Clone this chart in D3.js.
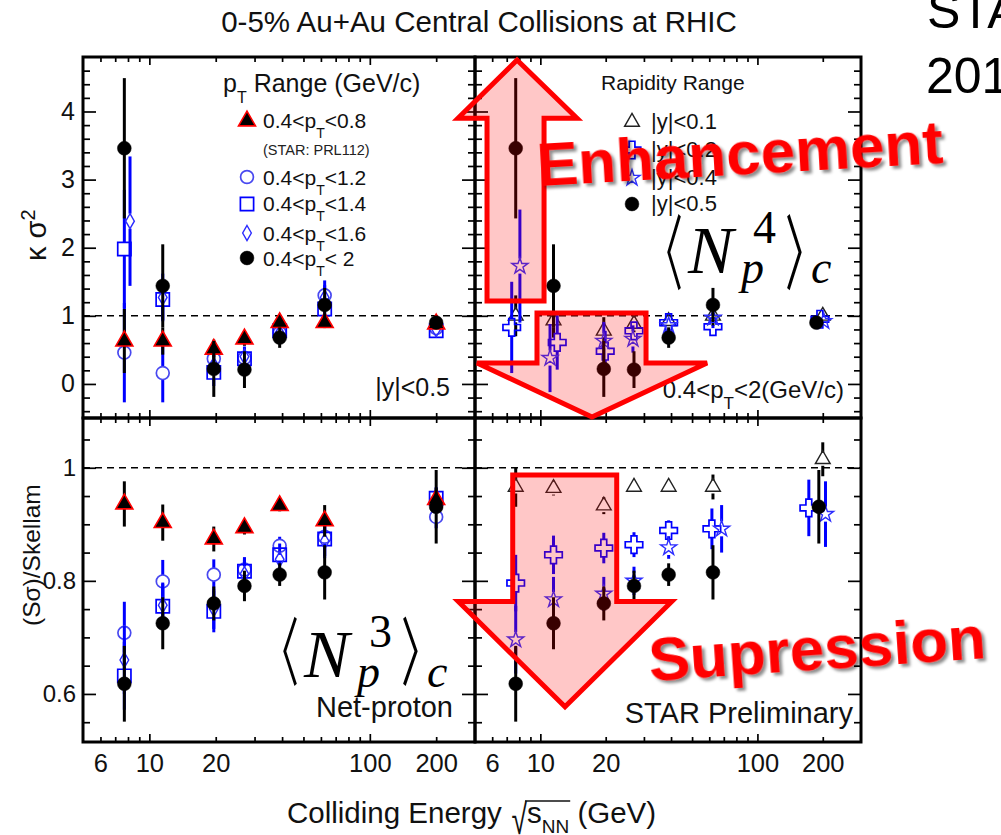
<!DOCTYPE html>
<html><head><meta charset="utf-8">
<script src="https://cdn.jsdelivr.net/npm/d3@7/dist/d3.min.js"></script>
<style>
html,body{margin:0;padding:0;background:#fff;}
svg{display:block;}
</style></head>
<body>
<svg id="chart" width="1001" height="835"></svg>
<script>
// ---------------- data ----------------
const energies = [7.7, 11.5, 19.6, 27, 39, 62.4, 200];
const xTickLabels = [6, 10, 20, 100, 200];
const xMajorTicks = [10, 100];
const xMinorTicks = [6, 7, 8, 9, 20, 30, 40, 50, 60, 70, 80, 90, 200];
const kTickLabels = [0, 1, 2, 3, 4];
const sTickLabels = [0.6, 0.8, 1];

// kappa*sigma^2 , pT ranges (|y|<0.5)
const kTri08 = [0.63, 0.63, 0.51, 0.66, 0.90, 0.90, 0.88];
const kTri08Err = [0.47, 0.20, 0.14, 0.10, 0.08, 0.08, 0.05];
const kCirc12 = [0.46, 0.16, 0.37, 0.38, 0.75, 1.30, 0.82];
const kCirc12Err = [0.73, 0.43, 0.12, 0.10, 0.05, 0.15, 0.05];
const kSq14 = [1.98, 1.24, 0.17, 0.37, 0.78, 1.10, 0.78];
const kSq14Err = [0.87, 0.30, 0.20, 0.15, 0.08, 0.20, 0.05];
const kDia16 = [2.39, 1.27, 0.28, 0.40, 0.75, 1.27, 0.80];
const kDia16Err = [0.95, 0.35, 0.15, 0.15, 0.06, 0.25, 0.05];
const kDia16E = [8.17, 11.5, 19.6, 27, 39, 62.4, 200];
const kDot2 = [3.46, 1.44, 0.22, 0.21, 0.68, 1.16, 0.90];
const kDot2Err = [1.03, 0.61, 0.41, 0.27, 0.15, 0.25, 0.08];

// kappa*sigma^2 , rapidity ranges (0.4<pT<2)
const kTri01 = [1.00, 0.93, 0.78, 0.88, 0.92, 1.00, 1.00];
const kTri01Err = [0.30, 0.25, 0.20, 0.12, 0.10, 0.15, 0.08];
const kCross02 = [0.83, 0.61, 0.48, 0.78, 0.90, 0.84, 0.95];
const kCross02Err = [0.67, 0.40, 0.30, 0.12, 0.06, 0.10, 0.04];
const kCross02E = [7.38, 11.96, 19.9, 27, 39, 62.4, 194];
const kStar04 = [1.73, 0.38, 0.63, 0.66, 0.86, 0.97, 0.92];
const kStar04Err = [0.83, 0.50, 0.28, 0.20, 0.06, 0.15, 0.05];
const kStar04E = [8.05, 11.08, 19.6, 26.7, 39, 62.4, 202];
const kDot05E = [7.7, 11.5, 19.6, 27, 39, 62.4, 187];

// S*sigma/Skellam , pT ranges (|y|<0.5)
const sTri08 = [0.936, 0.903, 0.874, 0.894, 0.933, 0.906, 0.944];
const sTri08Err = [0.040, 0.032, 0.022, 0.012, 0.010, 0.028, 0.020];
const sCirc12 = [0.708, 0.799, 0.811, 0.820, 0.862, 0.878, 0.913];
const sCirc12Err = [0.055, 0.038, 0.027, 0.020, 0.016, 0.022, 0.020];
const sSq14 = [0.632, 0.755, 0.746, 0.817, 0.846, 0.874, 0.946];
const sSq14Err = [0.060, 0.040, 0.037, 0.025, 0.020, 0.030, 0.020];
const sDia16 = [0.660, 0.757, 0.750, 0.812, 0.838, 0.870, 0.940];
const sDia16Err = [0.060, 0.040, 0.035, 0.025, 0.020, 0.030, 0.020];
const sDot2 = [0.618, 0.725, 0.760, 0.791, 0.811, 0.815, 0.931];
const sDot2Err = [0.067, 0.046, 0.030, 0.027, 0.020, 0.048, 0.065];

// S*sigma/Skellam , rapidity ranges (0.4<pT<2)
const sTri01 = [0.966, 0.964, 0.933, 0.966, 0.966, 0.966, 1.015];
const sTri01Err = [0.035, 0.013, 0.015, 0.005, 0.005, 0.022, 0.030];
const sCross02 = [0.796, 0.846, 0.858, 0.864, 0.889, 0.892, 0.929];
const sCross02Err = [0.050, 0.034, 0.027, 0.022, 0.018, 0.036, 0.050];
const sCross02E = [7.7, 11.5, 19.6, 27, 39, 61.7, 172.5];
const sStar04 = [0.696, 0.767, 0.777, 0.800, 0.859, 0.892, 0.918];
const sStar04Err = [0.060, 0.040, 0.030, 0.025, 0.020, 0.042, 0.058];
const sStar04E = [7.7, 11.5, 19.6, 27, 39, 68.4, 205.9];
const sDot05E = [7.7, 11.5, 19.6, 27, 39, 62.4, 191.8];

// annotation arrows, in (energy, value) coordinates
const upArrowPts = [[7.81,4.756],[14.75,3.90],[10.40,3.90],[10.40,1.218],[5.68,1.218],[5.68,3.90],[4.175,3.90]];
const downArrowTopPts = [[9.65,1.04],[30.68,1.04],[30.68,0.3075],[58.6,0.3075],[17.3,-0.485],[5.108,0.3075],[9.65,0.3075]];
const downArrowBotPts = [[7.46,0.987],[22.48,0.987],[22.48,0.7635],[40.3,0.7635],[12.99,0.5774],[4.19,0.7635],[7.46,0.7635]];

// ---------------- layout ----------------
const SANS = "'Liberation Sans', Arial, Helvetica, sans-serif";
const SERIF = "'Liberation Serif', 'Times New Roman', serif";
const svg = d3.select("#chart");
const L = 83, M = 475, R = 861, T = 57, MID = 418, B = 742;
const xL = d3.scaleLog().domain([5, 300]).range([L, M]);
const xR = d3.scaleLog().domain([5, 300]).range([M, R]);
const yT = d3.scaleLinear().domain([-0.5, 4.8]).range([MID, T]);
const yB = d3.scaleLinear().domain([0.515, 1.088]).range([B, MID]);

const kMinor = d3.range(-0.4, 4.79, 0.2).map(v => +v.toFixed(2)).filter(v => Math.abs(v - Math.round(v)) > 1e-6);
const sMajor = [0.6, 0.8, 1.0];
const sMinor = [0.55, 0.65, 0.7, 0.75, 0.85, 0.9, 0.95, 1.05];

const BLUE = "#0000ff", LBLUE = "#4848f0";

const syms = {
  tri:   {d: d3.symbol(d3.symbolTriangle, 125)(), fill: "#000", stroke: "#ff0000", sw: 1.6, bar: "#000", gap: 0},
  circ:  {d: d3.symbol(d3.symbolCircle, 130)(), fill: "none", stroke: LBLUE, sw: 1.7, bar: BLUE, gap: 6.4},
  sq:    {d: d3.symbol(d3.symbolSquare, 175)(), fill: "none", stroke: BLUE, sw: 1.7, bar: BLUE, gap: 6.6},
  dia:   {d: d3.symbol(d3.symbolDiamond, 65)(), fill: "none", stroke: "#2a2aff", sw: 1.4, bar: BLUE, gap: 7.5},
  dot:   {d: d3.symbol(d3.symbolCircle, 150)(), fill: "#000", stroke: "#000", sw: 0.5, bar: "#000", gap: 0},
  otri:  {d: d3.symbol(d3.symbolTriangle, 95)(), fill: "none", stroke: "#222", sw: 1.4, bar: "#000", gap: 6.5},
  cross: {d: d3.symbol(d3.symbolCross, 170)(), fill: "none", stroke: BLUE, sw: 1.7, bar: BLUE, gap: 8.7},
  star:  {d: d3.symbol(d3.symbolStar, 80)(), fill: "none", stroke: "#2d2dff", sw: 1.4, bar: BLUE, gap: 7.5}
};

// ---------- axes / ticks ----------
function ticks(axisFn, scale, vals, len, tx, ty) {
  const g = svg.append("g").attr("transform", `translate(${tx},${ty})`)
    .call(axisFn(scale).tickValues(vals).tickSizeInner(-len).tickSizeOuter(0).tickFormat(""));
  g.select(".domain").remove();
  g.selectAll(".tick line").attr("stroke", "#000").attr("stroke-width", 1.7);
}
function panelTicks(x, y, yMaj, yMin) {
  const [x0, x1] = x.range();
  const [y1, y0] = y.range();
  [[d3.axisBottom, y1], [d3.axisTop, y0]].forEach(([fn, ty]) => {
    ticks(fn, x, xMajorTicks, 8, 0, ty);
    ticks(fn, x, xMinorTicks, 5, 0, ty);
  });
  [[d3.axisLeft, x0], [d3.axisRight, x1]].forEach(([fn, tx]) => {
    ticks(fn, y, yMaj, 13, tx, 0);
    ticks(fn, y, yMin, 7, tx, 0);
  });
}
function dashed(x, y) {
  svg.append("line").attr("x1", x.range()[0]).attr("x2", x.range()[1])
    .attr("y1", y(1)).attr("y2", y(1))
    .attr("stroke", "#000").attr("stroke-width", 1.5).attr("stroke-dasharray", "7,5");
}
function frame(x, y) {
  const [x0, x1] = x.range(); const [y1, y0] = y.range();
  svg.append("rect").attr("x", x0).attr("y", y0).attr("width", x1 - x0).attr("height", y1 - y0)
    .attr("fill", "none").attr("stroke", "#000").attr("stroke-width", 3);
}

// ---------- series ----------
function series(x, y, xs, vals, errs, s) {
  const g = svg.append("g");
  const data = vals.map((v, i) => ({e: xs[i], v, err: errs[i]}));
  const segs = [];
  data.forEach(d => {
    const yc = y(d.v), yt = y(d.v + d.err), yb = y(d.v - d.err);
    if (s.gap === 0) segs.push({x: x(d.e), a: yt, b: yb});
    else {
      if (yt < yc - s.gap) segs.push({x: x(d.e), a: yt, b: yc - s.gap});
      if (yb > yc + s.gap) segs.push({x: x(d.e), a: yc + s.gap, b: yb});
    }
  });
  g.selectAll("line").data(segs).join("line")
    .attr("x1", d => d.x).attr("x2", d => d.x).attr("y1", d => d.a).attr("y2", d => d.b)
    .attr("stroke", s.bar).attr("stroke-width", 3);
  g.selectAll("path").data(data).join("path")
    .attr("transform", d => `translate(${x(d.e)},${y(d.v)})`)
    .attr("d", s.d).attr("fill", s.fill).attr("stroke", s.stroke).attr("stroke-width", s.sw);
}

// ---------- text helpers ----------
function rich(x, y, parts, size, opts = {}) {
  const t = svg.append("text").attr("x", x).attr("y", y)
    .attr("font-family", opts.family || SANS).attr("font-size", size)
    .attr("fill", opts.fill || "#111").attr("text-anchor", opts.anchor || "start");
  let cur = 0;
  parts.forEach(p => {
    const [txt, kind] = typeof p === "string" ? [p, 0] : p;
    const target = kind === 1 ? opts.sub || size * 0.45 : (kind === 2 ? -(opts.sup || size * 0.4) : 0);
    const fs = kind ? (opts.small || size * 0.65) : size;
    t.append("tspan").text(txt).attr("dy", target - cur).attr("font-size", fs);
    cur = target;
  });
  return t;
}
const measureCtx = document.createElement("canvas").getContext("2d");
// place a glyph so that its inked box fills the given box
function fitGlyph(ch, family, x0, x1, y0, y1, fill) {
  measureCtx.font = `100px ${family}`;
  const m = measureCtx.measureText(ch);
  const w = m.actualBoundingBoxLeft + m.actualBoundingBoxRight;
  const h = m.actualBoundingBoxAscent + m.actualBoundingBoxDescent;
  const sx = (x1 - x0) / w, sy = (y1 - y0) / h;
  return svg.append("text")
    .attr("transform", `translate(${x0 + m.actualBoundingBoxLeft * sx},${y0 + m.actualBoundingBoxAscent * sy}) scale(${sx},${sy})`)
    .attr("font-family", family).attr("font-size", 100).attr("fill", fill || "#000").text(ch);
}

// ---------------- draw ----------------
dashed(xL, yT); dashed(xR, yT); dashed(xL, yB); dashed(xR, yB);

// top-left: kappa sigma^2 vs pT range
series(xL, yT, energies, kCirc12, kCirc12Err, syms.circ);
series(xL, yT, energies, kSq14, kSq14Err, syms.sq);
series(xL, yT, kDia16E, kDia16, kDia16Err, syms.dia);
series(xL, yT, energies, kTri08, kTri08Err, syms.tri);
series(xL, yT, energies, kDot2, kDot2Err, syms.dot);

// top-right: kappa sigma^2 vs rapidity
series(xR, yT, energies, kTri01, kTri01Err, syms.otri);
series(xR, yT, kCross02E, kCross02, kCross02Err, syms.cross);
series(xR, yT, kStar04E, kStar04, kStar04Err, syms.star);
series(xR, yT, kDot05E, kDot2, kDot2Err, syms.dot);

// bottom-left
series(xL, yB, energies, sCirc12, sCirc12Err, syms.circ);
series(xL, yB, energies, sSq14, sSq14Err, syms.sq);
series(xL, yB, energies, sDia16, sDia16Err, syms.dia);
series(xL, yB, energies, sTri08, sTri08Err, syms.tri);
series(xL, yB, energies, sDot2, sDot2Err, syms.dot);

// bottom-right
series(xR, yB, energies, sTri01, sTri01Err, syms.otri);
series(xR, yB, sCross02E, sCross02, sCross02Err, syms.cross);
series(xR, yB, sStar04E, sStar04, sStar04Err, syms.star);
series(xR, yB, sDot05E, sDot2, sDot2Err, syms.dot);

panelTicks(xL, yT, kTickLabels, kMinor);
panelTicks(xR, yT, kTickLabels, kMinor);
panelTicks(xL, yB, sMajor, sMinor);
panelTicks(xR, yB, sMajor, sMinor);
frame(xL, yT); frame(xR, yT); frame(xL, yB); frame(xR, yB);

function labels(axis, tx, ty, size) {
  const g = svg.append("g").attr("transform", `translate(${tx},${ty})`).call(axis);
  g.select(".domain").remove();
  g.selectAll(".tick line").remove();
  g.selectAll("text").attr("font-family", SANS).attr("font-size", size).attr("fill", "#111");
}
labels(d3.axisLeft(yT).tickValues(kTickLabels).tickSize(0).tickPadding(8).tickFormat(d3.format("d")), L, 0, 25);
labels(d3.axisLeft(yB).tickValues(sTickLabels).tickSize(0).tickPadding(7).tickFormat(d => d === 1 ? "1" : d3.format(".1f")(d)), L, 0, 24);
labels(d3.axisBottom(xL).tickValues(xTickLabels).tickSize(0).tickPadding(12).tickFormat(d3.format("d")), 0, B, 25.5);
labels(d3.axisBottom(xR).tickValues(xTickLabels).tickSize(0).tickPadding(12).tickFormat(d3.format("d")), 0, B, 25.5);

// axis titles
rich(46, 261, ["κ σ", ["2", 2]], 29, {sup: 11, small: 20, fill: "#111"})
  .attr("transform", "rotate(-90,46,261)");
svg.append("text").attr("x", 40).attr("y", 626).attr("transform", "rotate(-90,40,626)")
  .attr("font-family", SANS).attr("font-size", 24.5).attr("fill", "#111").text("(Sσ)/Skellam");

// x title with radical sign
svg.append("text").attr("x", 287).attr("y", 823).attr("font-family", SANS).attr("font-size", 29.5).attr("fill", "#111").text("Colliding Energy");
fitGlyph("√", SANS, 512, 527, 800, 834, "#111");
const xt2 = rich(527, 823, ["s", ["NN", 1], " (GeV)"], 29.5, {sub: 10, small: 19});
{
  const n = xt2.node();
  const nnEnd = n.getEndPositionOfChar(2).x;
  svg.append("line").attr("x1", 525).attr("x2", nnEnd + 1).attr("y1", 801).attr("y2", 801)
    .attr("stroke", "#111").attr("stroke-width", 1.6);
}

// title & corner
svg.append("text").attr("x", 479).attr("y", 32).attr("text-anchor", "middle")
  .attr("font-family", SANS).attr("font-size", 29.5).attr("fill", "#111")
  .text("0-5% Au+Au Central Collisions at RHIC");
svg.append("text").attr("x", 927).attr("y", 28).attr("font-family", SANS).attr("font-size", 50).attr("fill", "#000").text("STAR");
svg.append("text").attr("x", 926).attr("y", 93).attr("font-family", SANS).attr("font-size", 50).attr("fill", "#000").text("2014");

// panel labels
rich(223, 92, ["p", ["T", 1], " Range (GeV/c)"], 25, {sub: 11, small: 16});
svg.append("text").attr("x", 601).attr("y", 90).attr("font-family", SANS).attr("font-size", 21).attr("fill", "#111").text("Rapidity Range");
rich(450, 396, ["|y|<0.5"], 25, {anchor: "end"});
rich(844, 398, ["0.4<p", ["T", 1], "<2(GeV/c)"], 24, {anchor: "end", sub: 11, small: 17});
svg.append("text").attr("x", 453).attr("y", 717).attr("text-anchor", "end").attr("font-family", SANS).attr("font-size", 29).attr("fill", "#111").text("Net-proton");
svg.append("text").attr("x", 853).attr("y", 723).attr("text-anchor", "end").attr("font-family", SANS).attr("font-size", 29).attr("fill", "#111").text("STAR Preliminary");

// legend, pT ranges
const legL = [
  {s: syms.tri, y: 121, parts: ["0.4<p", ["T", 1], "<0.8"], by: 128},
  {s: syms.circ, y: 177, parts: ["0.4<p", ["T", 1], "<1.2"], by: 185},
  {s: syms.sq, y: 204, parts: ["0.4<p", ["T", 1], "<1.4"], by: 211},
  {s: syms.dia, y: 233, parts: ["0.4<p", ["T", 1], "<1.6"], by: 241},
  {s: syms.dot, y: 258, parts: ["0.4<p", ["T", 1], "< 2"], by: 266}
];
legL.forEach(it => {
  svg.append("path").attr("transform", `translate(247,${it.y})`).attr("d", it.s.d)
    .attr("fill", it.s.fill).attr("stroke", it.s.stroke).attr("stroke-width", it.s.sw);
  rich(263, it.by, it.parts, 21, {sub: 10, small: 14});
});
svg.append("text").attr("x", 263).attr("y", 155).attr("font-family", SANS).attr("font-size", 14.5).attr("fill", "#222").text("(STAR: PRL112)");

// legend, rapidity ranges
const legR = [
  {s: syms.otri, y: 122, txt: "|y|<0.1", by: 129},
  {s: syms.cross, y: 150, txt: "|y|<0.2", by: 157},
  {s: syms.star, y: 178, txt: "|y|<0.4", by: 185},
  {s: syms.dot, y: 204, txt: "|y|<0.5", by: 211}
];
legR.forEach(it => {
  svg.append("path").attr("transform", `translate(632,${it.y})`).attr("d", it.s.d)
    .attr("fill", it.s.fill).attr("stroke", it.s.stroke).attr("stroke-width", it.s.sw);
  svg.append("text").attr("x", 651).attr("y", it.by).attr("font-family", SANS).attr("font-size", 22).attr("fill", "#111").text(it.txt);
});

// cumulant formulas <N_p^n>_c
const CJK = "'Noto Sans CJK JP', 'Noto Sans CJK SC', 'DejaVu Sans', sans-serif";
function formula(x0, base, top, bot, power) {
  fitGlyph("〈", CJK, x0, x0 + 14, top, bot);
  svg.append("text").attr("x", x0 + 21).attr("y", base).attr("font-family", SERIF).attr("font-style", "italic").attr("font-size", 68).text("N");
  svg.append("text").attr("x", x0 + 86).attr("y", base - 30).attr("font-family", SERIF).attr("font-size", 46).text(power);
  svg.append("text").attr("x", x0 + 74).attr("y", base + 10).attr("font-family", SERIF).attr("font-style", "italic").attr("font-size", 46).text("p");
  fitGlyph("〉", CJK, x0 + 120, x0 + 135, top, bot);
  svg.append("text").attr("x", x0 + 144).attr("y", base + 10).attr("font-family", SERIF).attr("font-style", "italic").attr("font-size", 46).text("c");
}
formula(667, 273, 213, 290, "4");
formula(283, 677, 617, 687, "3");

// arrows
const defs = svg.append("defs");
const f = defs.append("filter").attr("id", "shadow").attr("x", "-10%").attr("y", "-20%").attr("width", "130%").attr("height", "160%");
f.append("feDropShadow").attr("dx", 3).attr("dy", 3).attr("stdDeviation", 1.8).attr("flood-color", "#000").attr("flood-opacity", 0.45);

function arrow(x, y, pts) {
  svg.append("path").attr("d", d3.line().x(p => x(p[0])).y(p => y(p[1]))(pts) + "Z")
    .attr("fill", "rgba(255,0,0,0.22)").attr("stroke", "#ff0000").attr("stroke-width", 5)
    .attr("stroke-linejoin", "miter");
}
arrow(xR, yT, upArrowPts);
arrow(xR, yT, downArrowTopPts);
arrow(xR, yB, downArrowBotPts);

svg.append("text").attr("x", 538).attr("y", 186).attr("transform", "rotate(-3.25,538,186)")
  .attr("font-family", SANS).attr("font-weight", "bold").attr("font-size", 62).attr("fill", "#ff0000")
  .attr("filter", "url(#shadow)").text("Enhancement");
svg.append("text").attr("x", 650).attr("y", 681).attr("transform", "rotate(-3.9,650,681)")
  .attr("font-family", SANS).attr("font-weight", "bold").attr("font-size", 62).attr("fill", "#ff0000")
  .attr("filter", "url(#shadow)").text("Supression");
</script>
</body></html>
